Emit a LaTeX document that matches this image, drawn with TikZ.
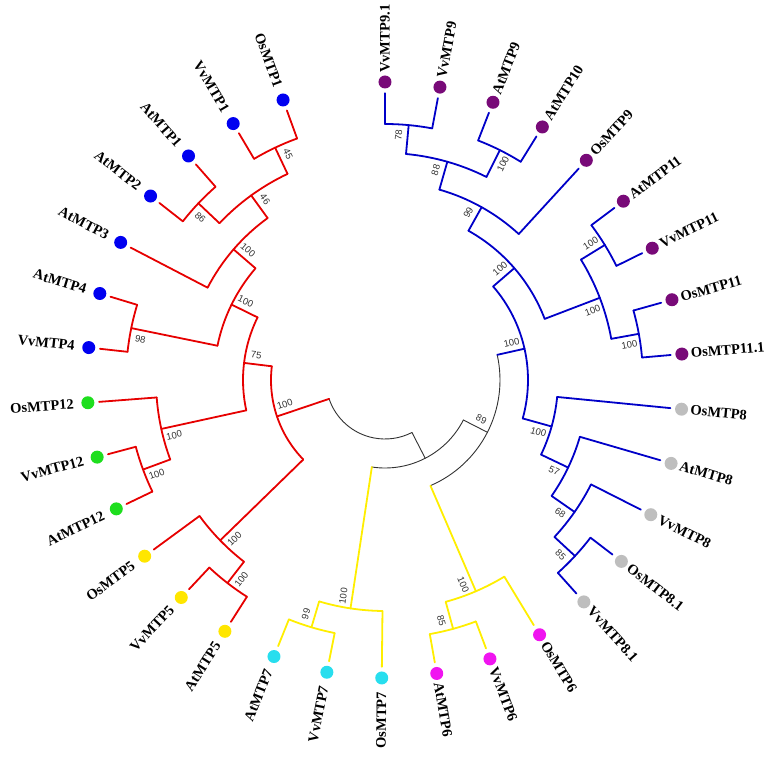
\documentclass[tikz,border=0pt]{standalone}
\usepackage{fontspec}
\setmainfont{Liberation Serif}
\newfontfamily\leaffont{Liberation Serif}
\newfontfamily\bsfont{Liberation Sans}
\usepackage{tikz}
\usetikzlibrary{positioning}
\usepackage{xcolor}

\definecolor{cladered}{RGB}{230,0,0}
\definecolor{cladeblue}{RGB}{0,0,200}
\definecolor{cladeyellow}{RGB}{255,238,0}
\definecolor{rootgray}{RGB}{50,50,50}
\definecolor{bsgray}{RGB}{50,50,50}
\definecolor{dotblue}{RGB}{0,0,240}
\definecolor{dotgreen}{RGB}{30,222,30}
\definecolor{dotyellow}{RGB}{255,230,0}
\definecolor{dotcyan}{RGB}{40,222,238}
\definecolor{dotmagenta}{RGB}{240,20,240}
\definecolor{dotgrey}{RGB}{190,190,190}
\definecolor{dotpurple}{RGB}{120,10,120}

\tikzset{
  leafdot/.style={circle, inner sep=0pt, minimum size=13pt, draw=none},
  leaflabel/.style={font=\leaffont\bfseries\fontsize{14.5}{14.5}\selectfont, inner sep=0pt},
  bslabel/.style={font=\bsfont\fontsize{9.5}{9.5}\selectfont, text=bsgray, inner sep=0pt},
  branch/.style={line width=1.8pt, line cap=round},
  rootbranch/.style={line width=0.9pt, draw=rootgray, line cap=round},
}

\begin{document}
\begin{tikzpicture}[x=1pt, y=1pt]
  \useasboundingbox (-385,-378) rectangle (389,380);

  % root part (black)
  \coordinate (nA) at (247.9:59pt);
  \coordinate (nB) at (-62.8:88pt);
  \coordinate (nC) at (-27.04:115pt);
  \draw[rootbranch] (198.65:59pt) arc[start angle=198.65, end angle=297.2, radius=59pt];
  \draw[rootbranch] (-62.8:59pt) -- (nB);
  \draw[rootbranch] (-27.04:88pt) arc[start angle=-27.04, end angle=-98.59, radius=88pt];
  \draw[rootbranch] (-27.04:88pt) -- (nC);
  \draw[rootbranch] (12.64:115pt) arc[start angle=12.64, end angle=-66.72, radius=115pt];

  % clade arcs: from angle / to angle / radius / colour
  \foreach \a/\b/\r/\c in {
      90/79.375/256/cladeblue, 68.75/58.125/257/cladeblue, 84.69/63.44/227/cladeblue,
      74.06/47.5/198/cladeblue, 36.875/26.25/258/cladeblue, 15.625/5/258/cladeblue,
      31.56/10.31/230/cladeblue, 60.78/20.94/171/cladeblue, -37.5/-48.125/259/cladeblue,
      -26.875/-42.81/231/cladeblue, -16.25/-34.84/203/cladeblue, -5.625/-25.55/173/cladeblue,
      40.86/-15.59/143/cladeblue,
      -69.375/-80/258/cladeyellow, -58.75/-74.69/230/cladeyellow,
      -101.25/-111.875/258/cladeyellow, -90.625/-106.56/231/cladeyellow,
      110/120.625/257/cladered, 131.25/141.875/257/cladered, 115.31/136.56/228/cladered,
      125.94/152.5/200/cladered, 163.125/173.75/259/cladered, 139.22/168.44/171/cladered,
      195/205.625/258/cladered, 184.375/200.31/229/cladered, 153.83/192.34/142/cladered,
      226.875/237.5/257/cladered, 216.25/232.19/230/cladered, 173.09/224.22/114/cladered}
    \draw[branch, draw=\c] (\a:\r pt) arc[start angle=\a, end angle=\b, radius=\r pt];

  % inner branches: angle / parent radius / radius / name / colour
  \foreach \a/\p/\r/\n/\c in {
      84.69/227/256/n9c/cladeblue, 63.44/227/257/n9d/cladeblue, 74.06/198/227/n9b/cladeblue,
      60.78/171/198/n9/cladeblue, 31.56/230/258/n11a/cladeblue, 10.31/230/258/n11b/cladeblue,
      20.94/171/230/n11/cladeblue, 40.86/143/171/n911/cladeblue, -42.81/231/259/n8d/cladeblue,
      -34.84/203/231/n8c/cladeblue, -25.55/173/203/n8b/cladeblue, -15.59/143/173/n8/cladeblue,
      12.64/115/143/nblue/cladeblue,
      -74.69/230/258/m6b/cladeyellow, -66.72/115/230/m6a/cladeyellow,
      -106.56/231/258/m7b/cladeyellow, -98.59/88/231/m7a/cladeyellow,
      115.31/228/257/nq/cladered, 136.56/228/257/ny/cladered, 125.94/200/228/nz/cladered,
      139.22/171/200/nw/cladered, 168.44/171/259/nx/cladered, 153.83/142/171/nv/cladered,
      200.31/229/258/n12b/cladered, 192.34/142/229/n12/cladered, 173.09/114/142/nu/cladered,
      232.19/230/257/n5b/cladered, 224.22/114/230/n5/cladered, 198.65/59/114/nred/cladered}
  {
    \coordinate (\n) at (\a:\r pt);
    \draw[branch, draw=\c] (\a:\p pt) -- (\n);
  }

  % leaves on the right: angle / parent radius / name / text / dot / branch
  \foreach \a/\p/\n/\t/\d/\c in {
      90/256/vv91/VvMTP9.1/dotpurple/cladeblue, 79.375/256/vv9/VvMTP9/dotpurple/cladeblue,
      68.75/257/at9/AtMTP9/dotpurple/cladeblue, 58.125/257/at10/AtMTP10/dotpurple/cladeblue,
      47.5/198/os9/OsMTP9/dotpurple/cladeblue, 36.875/258/at11/AtMTP11/dotpurple/cladeblue,
      26.25/258/vv11/VvMTP11/dotpurple/cladeblue, 15.625/258/os11/OsMTP11/dotpurple/cladeblue,
      5/258/os111/OsMTP11.1/dotpurple/cladeblue,
      -5.625/173/os8/OsMTP8/dotgrey/cladeblue, -16.25/203/at8/AtMTP8/dotgrey/cladeblue,
      -26.875/231/vv8/VvMTP8/dotgrey/cladeblue, -37.5/259/os81/OsMTP8.1/dotgrey/cladeblue,
      -48.125/259/vv81/VvMTP8.1/dotgrey/cladeblue,
      -58.75/230/os6/OsMTP6/dotmagenta/cladeyellow, -69.375/258/vv6/VvMTP6/dotmagenta/cladeyellow,
      -80/258/at6/AtMTP6/dotmagenta/cladeyellow}
  {
    \node[leafdot, fill=\d] (\n) at (\a:298pt) {};
    \draw[branch, draw=\c, shorten >=4.5pt] (\a:\p pt) -- (\n);
    \node[leaflabel, rotate=\a, anchor=west] at (\a:307pt) {\t};
  }

  % leaves on the left
  \foreach \a/\p/\n/\t/\d/\c in {
      269.375/231/os7/OsMTP7/dotcyan/cladeyellow, 258.75/258/vv7/VvMTP7/dotcyan/cladeyellow,
      248.125/258/at7/AtMTP7/dotcyan/cladeyellow,
      237.5/257/at5/AtMTP5/dotyellow/cladered, 226.875/257/vv5/VvMTP5/dotyellow/cladered,
      216.25/230/os5/OsMTP5/dotyellow/cladered,
      205.625/258/at12/AtMTP12/dotgreen/cladered, 195/258/vv12/VvMTP12/dotgreen/cladered,
      184.375/229/os12/OsMTP12/dotgreen/cladered,
      173.75/259/vv4/VvMTP4/dotblue/cladered, 163.125/259/at4/AtMTP4/dotblue/cladered,
      152.5/200/at3/AtMTP3/dotblue/cladered, 141.875/257/at2/AtMTP2/dotblue/cladered,
      131.25/257/at1/AtMTP1/dotblue/cladered, 120.625/257/vv1/VvMTP1/dotblue/cladered,
      110/257/os1/OsMTP1/dotblue/cladered}
  {
    \pgfmathsetmacro\rot{\a-180}
    \node[leafdot, fill=\d] (\n) at (\a:298pt) {};
    \draw[branch, draw=\c, shorten >=4.5pt] (\a:\p pt) -- (\n);
    \node[leaflabel, rotate=\rot, anchor=east] at (\a:312pt) {\t};
  }

  % bootstrap values, right half: angle / radius / side / value
  \foreach \a/\r/\s/\v in {
      84.69/256/1/78, 63.44/257/-1/100, 74.06/227/1/88, 60.78/198/1/99,
      31.56/258/1/100, 10.31/258/-1/100, 20.94/230/-1/100, 40.86/171/1/100,
      -42.81/259/-1/85, -34.84/231/-1/68, -25.55/203/-1/57, -15.59/173/-1/100,
      12.64/143/1/100, -74.69/258/-1/85, -66.72/230/-1/100, -27.04/115/1/89}
  {
    \pgfmathsetmacro\la{\a+\s*515.7/(\r-11)}
    \pgfmathsetmacro\lr{\r-11}
    \node[bslabel, rotate=\a] at (\la:\lr pt) {\v};
  }

  % bootstrap values, left half
  \foreach \a/\r/\s/\v in {
      253.44/258/-1/99, 261.41/231/-1/100, 115.31/257/-1/45, 136.56/257/1/86,
      125.94/228/-1/46, 139.22/200/-1/100, 168.44/259/1/98, 153.83/171/-1/100,
      200.31/258/1/100, 192.34/229/1/100, 173.09/142/-1/75, 232.19/257/1/100,
      224.22/230/1/100, 198.65/114/-1/100}
  {
    \pgfmathsetmacro\la{\a+\s*515.7/(\r-11)}
    \pgfmathsetmacro\lr{\r-11}
    \pgfmathsetmacro\rot{\a-180}
    \node[bslabel, rotate=\rot] at (\la:\lr pt) {\v};
  }
\end{tikzpicture}
\end{document}
